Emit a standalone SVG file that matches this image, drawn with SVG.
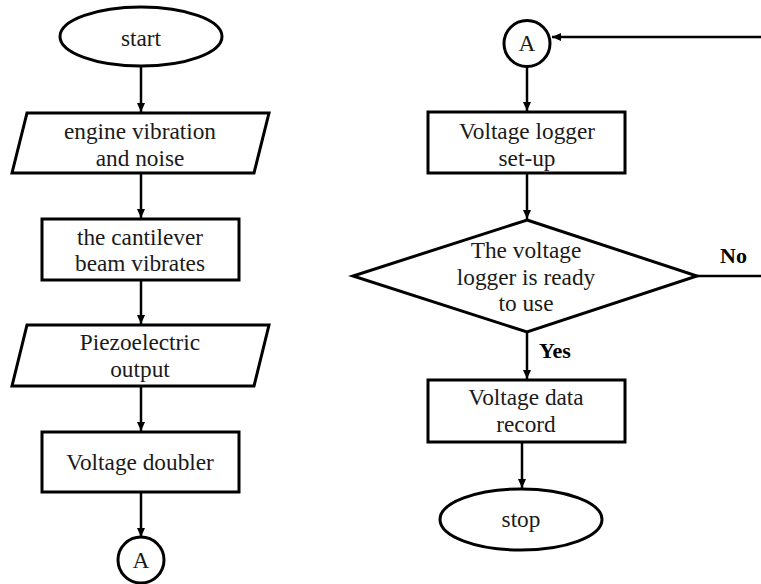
<svg xmlns="http://www.w3.org/2000/svg" width="761" height="584" viewBox="0 0 761 584">
<defs>
<marker id="ah" markerWidth="10" markerHeight="10" refX="9" refY="5" orient="auto" markerUnits="userSpaceOnUse">
<path d="M0,1 L9,5 L0,9 Z" fill="#000"/>
</marker>
<style>
.s{fill:#fff;stroke:#000;stroke-width:3}
.t{font-family:"Liberation Serif","Times New Roman",serif;font-size:23.3px;fill:#1a1a1a;text-anchor:middle}
.b{font-family:"Liberation Serif","Times New Roman",serif;font-size:22px;font-weight:bold;fill:#000}
.c{fill:none;stroke:#000;stroke-width:2.5}
</style>
</defs>
<rect width="761" height="584" fill="#fff"/>
<g id="connectors">
<line class="c" x1="141" y1="66" x2="141" y2="112" marker-end="url(#ah)"/>
<line class="c" x1="141" y1="173" x2="141" y2="218" marker-end="url(#ah)"/>
<line class="c" x1="141" y1="280" x2="141" y2="324" marker-end="url(#ah)"/>
<line class="c" x1="141" y1="386" x2="141" y2="431" marker-end="url(#ah)"/>
<line class="c" x1="141" y1="492" x2="141" y2="537" marker-end="url(#ah)"/>
<line class="c" x1="527" y1="63" x2="527" y2="111" marker-end="url(#ah)"/>
<line class="c" x1="527" y1="173" x2="527" y2="219" marker-end="url(#ah)"/>
<line class="c" x1="527" y1="332" x2="527" y2="379" marker-end="url(#ah)"/>
<line class="c" x1="522" y1="442" x2="522" y2="488" marker-end="url(#ah)"/>
<polyline class="c" points="697,276 761,276"/>
<line class="c" x1="762" y1="37" x2="552" y2="37" marker-end="url(#ah)"/>
<text class="b" x="720" y="263">No</text>
<text class="b" x="539" y="358">Yes</text>
</g>
<g id="start">
<ellipse class="s" cx="141" cy="36.5" rx="81" ry="29.5"/>
<text class="t" x="141" y="46">start</text>
</g>
<g id="engine">
<polygon class="s" points="27,113 269,113 254,173 12,173"/>
<text class="t" x="140" y="139">engine vibration</text>
<text class="t" x="140" y="166">and noise</text>
</g>
<g id="cantilever">
<rect class="s" x="42" y="219" width="197" height="61"/>
<text class="t" x="140" y="245">the cantilever</text>
<text class="t" x="140" y="271">beam vibrates</text>
</g>
<g id="piezo">
<polygon class="s" points="27,325 269,325 254,386 12,386"/>
<text class="t" x="140" y="350">Piezoelectric</text>
<text class="t" x="140" y="377">output</text>
</g>
<g id="doubler">
<rect class="s" x="42" y="432" width="197" height="60"/>
<text class="t" x="140" y="470">Voltage doubler</text>
</g>
<g id="connA1">
<circle class="s" cx="141" cy="560" r="23"/>
<text class="t" x="141" y="568">A</text>
</g>
<g id="connA2">
<circle class="s" cx="527" cy="43.5" r="23"/>
<text class="t" x="527" y="51">A</text>
</g>
<g id="setup">
<rect class="s" x="428" y="112" width="197" height="61"/>
<text class="t" x="527" y="139">Voltage logger</text>
<text class="t" x="527" y="166">set-up</text>
</g>
<g id="decision">
<polygon class="s" points="527,220 697,276 527,332 353,276"/>
<text class="t" x="526" y="258">The voltage</text>
<text class="t" x="526" y="285">logger is ready</text>
<text class="t" x="526" y="311">to use</text>
</g>
<g id="record">
<rect class="s" x="428" y="380" width="197" height="62"/>
<text class="t" x="526" y="405">Voltage data</text>
<text class="t" x="526" y="432">record</text>
</g>
<g id="stop">
<ellipse class="s" cx="521" cy="519.5" rx="81" ry="30.5"/>
<text class="t" x="521" y="527">stop</text>
</g>
</svg>
